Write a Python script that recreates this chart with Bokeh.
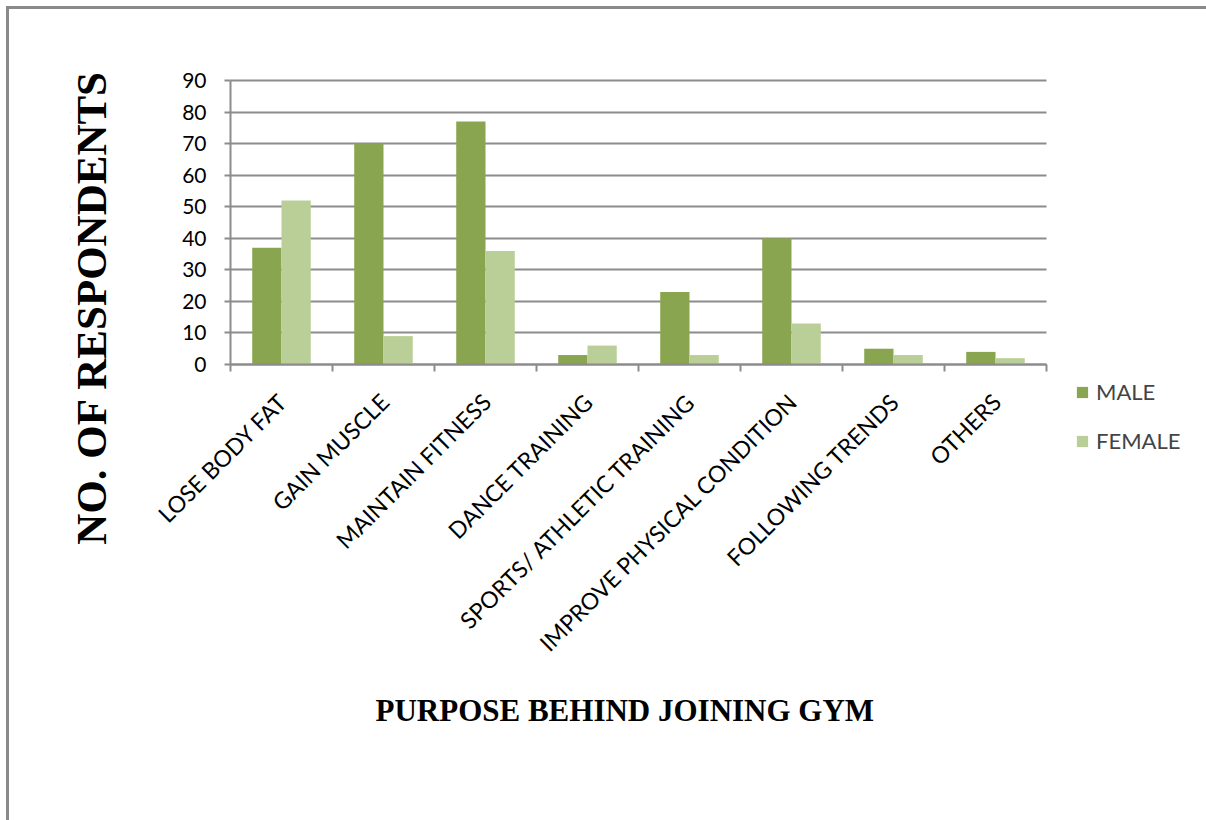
import math
from bokeh.plotting import figure
from bokeh.models import (ColumnDataSource, FixedTicker, Legend, LegendItem, Label, BoxAnnotation)
from bokeh.core.properties import value
from bokeh.layouts import column
from bokeh.embed import file_html
from bokeh.resources import INLINE

categories = ["LOSE BODY FAT", "GAIN MUSCLE", "MAINTAIN FITNESS", "DANCE TRAINING",
              "SPORTS/ ATHLETIC TRAINING", "IMPROVE PHYSICAL CONDITION",
              "FOLLOWING TRENDS", "OTHERS"]
male = [37, 70, 77, 3, 23, 40, 5, 4]
female = [52, 9, 36, 6, 3, 13, 3, 2]
y_ticks = [0, 10, 20, 30, 40, 50, 60, 70, 80, 90]

MALE_C = "#8AA54F"
FEMALE_C = "#BACF97"
GRID_C = "#8C8C8C"

# layout (page pixels)
OFF = 9                      # page offset of the figure (margin + border)
F_LEFT, F_RIGHT, F_TOP, F_BOTTOM = 70, 1206, 20, 800   # drawing frame
X0_PIX, XN_PIX = 230, 1046   # category axis extent
Y0_PIX, YMAX_PIX = 364, 80   # page y of value 0 and of the top tick
N = len(categories)
Y_MAX = y_ticks[-1]
px_x = (XN_PIX - X0_PIX) / N
px_y = (Y0_PIX - YMAX_PIX) / Y_MAX

centers = [i + 0.5 for i in range(N)]
src = ColumnDataSource(dict(
    xm=[c - 0.1435 for c in centers],
    xf=[c + 0.1435 for c in centers],
    xc=centers, y0=[0] * N, cat=categories,
    male=male, female=female))

p = figure(width=1206 - OFF, height=820 - OFF,
           x_range=(-(X0_PIX - F_LEFT) / px_x, (F_RIGHT - X0_PIX) / px_x),
           y_range=(-(F_BOTTOM - Y0_PIX) / px_y, (Y0_PIX - F_TOP) / px_y),
           output_backend="svg", toolbar_location=None,
           min_border_left=F_LEFT - OFF, min_border_right=1206 - F_RIGHT,
           min_border_top=F_TOP - OFF, min_border_bottom=820 - F_BOTTOM)
p.outline_line_color = None
p.background_fill_color = "white"
p.border_fill_color = "white"

# hide grid lines outside the category area
p.add_layout(BoxAnnotation(right=0, fill_color="white", fill_alpha=1.0, line_color=None, level="underlay"))
p.add_layout(BoxAnnotation(left=N, fill_color="white", fill_alpha=1.0, line_color=None, level="underlay"))

rm = p.vbar(x="xm", top="male", width=0.287, bottom=0, source=src, fill_color=MALE_C, line_color=None)
rf = p.vbar(x="xf", top="female", width=0.287, bottom=0, source=src, fill_color=FEMALE_C, line_color=None)

# category labels (rotated 45 degrees, end at the category centre)
p.text(x="xc", y="y0", text="cat", source=src, angle=math.pi / 4,
       text_align="right", text_baseline="middle", x_offset=1, y_offset=33,
       text_font=value("Lato"), text_font_size="23px", text_color="black")

# x axis at y = 0
p.xaxis.fixed_location = 0
p.xaxis.bounds = (0, N)
p.xaxis.ticker = FixedTicker(ticks=[], minor_ticks=list(range(N + 1)))
p.xaxis.minor_tick_out = 7
p.xaxis.minor_tick_in = 0
p.xaxis.minor_tick_line_color = GRID_C
p.xaxis.minor_tick_line_width = 2
p.xaxis.axis_line_color = GRID_C
p.xaxis.axis_line_width = 2
p.xgrid.visible = False

# y axis at x = 0
p.yaxis.fixed_location = 0
p.yaxis.bounds = (0, Y_MAX)
p.yaxis.ticker = FixedTicker(ticks=y_ticks)
p.yaxis.minor_tick_line_color = None
p.yaxis.major_tick_out = 6
p.yaxis.major_tick_in = 0
p.yaxis.major_tick_line_color = GRID_C
p.yaxis.major_tick_line_width = 2
p.yaxis.axis_line_color = GRID_C
p.yaxis.axis_line_width = 2
p.yaxis.major_label_text_font = "Lato"
p.yaxis.major_label_text_font_size = "21px"
p.yaxis.major_label_text_color = "black"
p.yaxis.major_label_standoff = 18
p.ygrid.grid_line_color = GRID_C
p.ygrid.grid_line_width = 2

# titles
p.add_layout(Label(x=(91 - X0_PIX) / px_x, y=(Y0_PIX - 307) / px_y,
                   text="NO. OF RESPONDENTS", angle=math.pi / 2,
                   text_font="Liberation Serif", text_font_style="bold",
                   text_font_size="43px", text_align="center", text_baseline="middle",
                   text_color="black"))
p.add_layout(Label(x=(375 - X0_PIX) / px_x, y=-(710 - Y0_PIX) / px_y,
                   text="PURPOSE BEHIND JOINING GYM",
                   text_font="Liberation Serif", text_font_style="bold",
                   text_font_size="31px", text_align="left", text_baseline="middle",
                   text_color="black"))

legend = Legend(items=[LegendItem(label="MALE", renderers=[rm]),
                       LegendItem(label="FEMALE", renderers=[rf])],
                location=(1075 - F_LEFT, F_BOTTOM - 454), orientation="vertical")
legend.label_text_font = "Lato"
legend.label_text_font_size = "22px"
legend.label_standoff = 7
legend.glyph_width = 14
legend.glyph_height = 14
legend.spacing = 22
legend.border_line_color = None
legend.background_fill_alpha = 0
p.add_layout(legend, "center")

layout = column(p, styles={"border-top": "3px solid #8A8A8A", "border-left": "3px solid #8A8A8A",
                           "margin-left": "6px", "margin-top": "6px"})

open("out.html", "w").write(file_html(layout, INLINE))
